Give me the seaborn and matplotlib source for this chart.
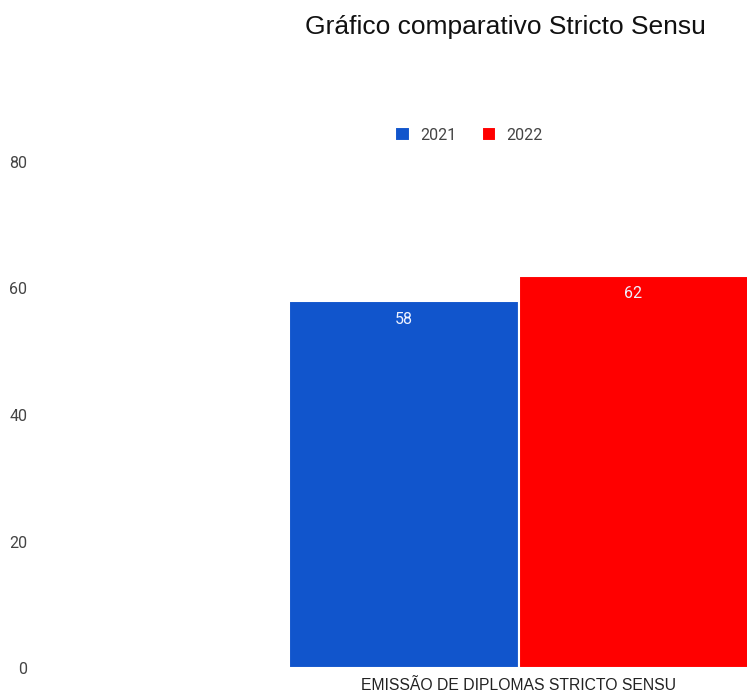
import pandas as pd
import matplotlib.pyplot as plt
import seaborn as sns

# Chart data
categories = ['EMISSÃO DE DIPLOMAS STRICTO SENSU']
years = ['2021', '2022']
values = [58, 62]
colors = ['#1155cc', '#ff0000']
y_ticks = [0, 20, 40, 60, 80]

df = pd.DataFrame({
    'categoria': categories * len(years),
    'ano': years,
    'valor': values,
})

sns.set_style('white')
plt.rcParams['font.family'] = ['Liberation Sans', 'DejaVu Sans']

fig = plt.figure(figsize=(7.47, 6.93), dpi=100)
W, H = 747, 693
ax = fig.add_axes([40 / W, 1 - 668 / H, 1 - 40 / W, (668 - 162) / H])

sns.barplot(data=df, x='categoria', y='valor', hue='ano', palette=colors,
            width=0.8, edgecolor='white', linewidth=1.5, saturation=1, ax=ax)

ax.set_xlim((40 - 518.5) / 575, (747 - 518.5) / 575)
ax.set_ylim(0, 80)
ax.set_yticks(y_ticks)
ax.set_yticklabels([str(t) for t in y_ticks], fontfamily='Roboto', fontsize=11.5, color='#444444')
ax.tick_params(axis='y', length=0, pad=9)
ax.tick_params(axis='x', length=0, pad=7, labelsize=11.3, labelcolor='#222222')
ax.set_xlabel('')
ax.set_ylabel('')
for s in ax.spines.values():
    s.set_visible(False)

# value labels inside the bars
for cont in ax.containers:
    for bar in cont:
        ax.annotate(f'{bar.get_height():.0f}',
                    (bar.get_x() + bar.get_width() / 2, bar.get_height()),
                    xytext=(0, -7.5), textcoords='offset points',
                    ha='center', va='top', color='#eef2ff',
                    fontsize=11.5, fontfamily='Roboto')

# legend
handles, labels = ax.get_legend_handles_labels()
ax.get_legend().remove()
fig.legend(handles, labels, loc='center', ncol=2, frameon=False,
           bbox_to_anchor=(469 / W, 1 - 135 / H), bbox_transform=fig.transFigure,
           handlelength=0.9, handleheight=0.9, handletextpad=0.65, columnspacing=1.6,
           prop={'family': 'Roboto', 'size': 11.5}, labelcolor='#444444')

fig.text(505 / W, 1 - 27 / H, 'Gráfico comparativo Stricto Sensu',
         ha='center', va='center', fontsize=19, color='#111111')

fig.savefig('out.png', dpi=100)
